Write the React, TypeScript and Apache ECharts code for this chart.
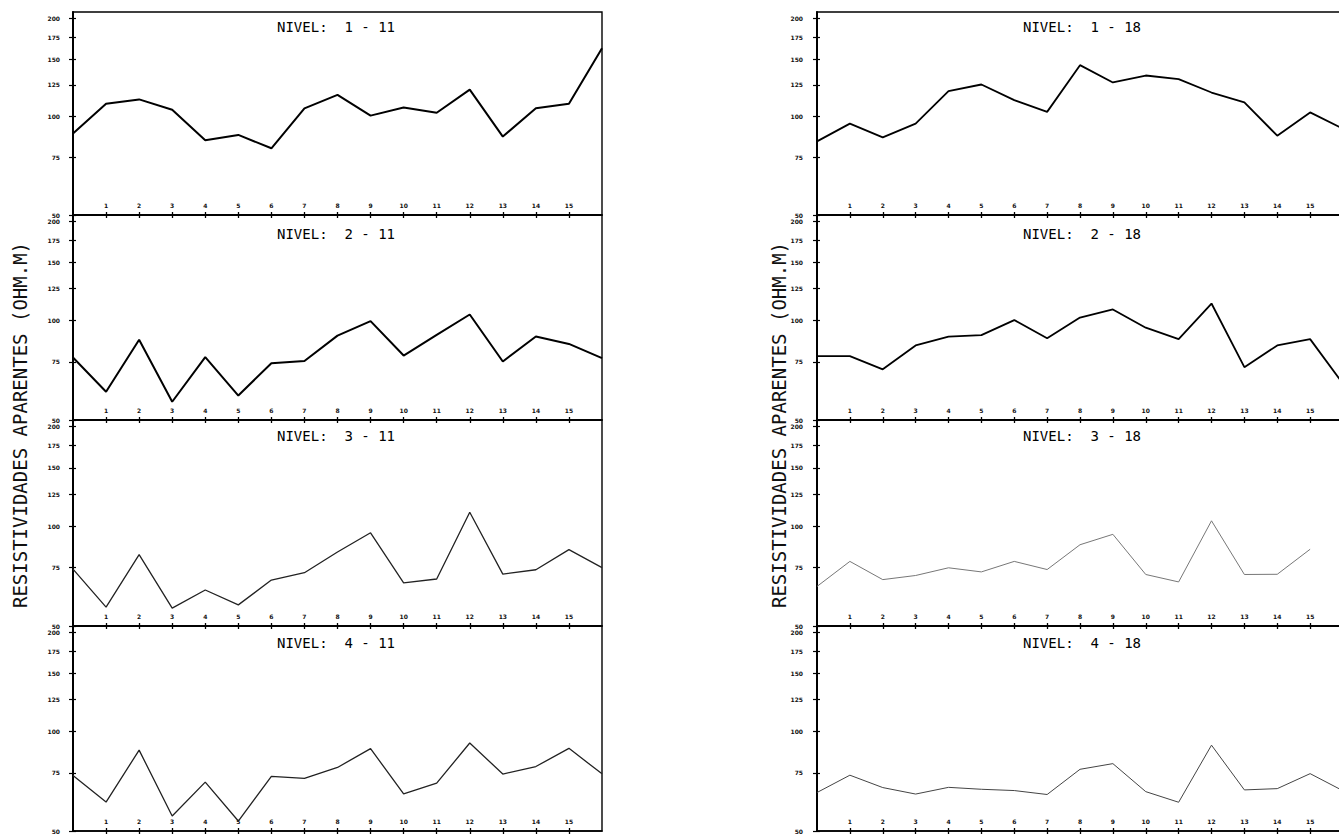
import React, { useEffect, useRef } from 'react';
import * as echarts from 'echarts';

// ---- data ----
const xTickValues = [1, 2, 3, 4, 5, 6, 7, 8, 9, 10, 11, 12, 13, 14, 15];
const yTickValues = [50, 75, 100, 125, 150, 175, 200];

const titlesLeft = ['NIVEL:  1 - 11', 'NIVEL:  2 - 11', 'NIVEL:  3 - 11', 'NIVEL:  4 - 11'];
const titlesRight = ['NIVEL:  1 - 18', 'NIVEL:  2 - 18', 'NIVEL:  3 - 18', 'NIVEL:  4 - 18'];
const yAxisTitle = 'RESISTIVIDADES APARENTES (OHM.M)';

const nivel1_11 = [88.8, 109.5, 112.9, 105, 84.7, 87.9, 80, 106, 116.6, 100.7, 106.7, 102.8, 121, 86.9, 106, 109.5, 162];
const nivel2_11 = [77.3, 60.9, 87.5, 56.8, 77.5, 59.3, 74.3, 75.5, 90.1, 99.7, 78.4, 90.6, 104.4, 75.2, 89.5, 85, 77];
const nivel3_11 = [74.2, 57, 82.1, 56.6, 64.2, 57.9, 68.8, 72.4, 83.6, 95.5, 67.5, 69.3, 110.1, 71.7, 73.9, 85, 75];
const nivel4_11 = [73.6, 61.2, 87.9, 55.5, 70.3, 53.6, 73.2, 72.2, 77.9, 88.8, 64.8, 69.8, 92.4, 74.4, 78.4, 89, 74.5];

const nivel1_18 = [84, 95.2, 86.4, 95.2, 119.6, 125.4, 112.3, 103.4, 143.7, 127.2, 133.6, 130.2, 118.5, 110.6, 87.4, 103, 91.8];
const nivel2_18 = [78.1, 78.1, 71.2, 84.1, 89.4, 90.4, 100.4, 88.5, 102.2, 108.1, 95.2, 87.9, 112.7, 72.3, 84.1, 87.9, 64.4];
const nivel3_18 = [65.8, 78.3, 69, 71, 74.9, 72.8, 78.3, 74, 87.9, 94.5, 71.5, 67.9, 103.8, 71.5, 71.6, 85.2];
const nivel4_18 = [65.4, 73.8, 67.7, 64.7, 67.8, 66.9, 66.3, 64.5, 76.9, 80, 65.8, 61.1, 91, 66.6, 67.2, 74.6, 66.2];

const seriesLeft = [nivel1_11, nivel2_11, nivel3_11, nivel4_11];
const seriesRight = [nivel1_18, nivel2_18, nivel3_18, nivel4_18];

// ---- layout / style ----
const X_MAX = 16;
const Y_MIN = 50;
const Y_MAX = 209;
const CANVAS_W = 1400;
const colLeft = [73, 817];
const colWidth = [529, 526];
const rowTop = [12, 215, 420, 626];
const rowHeight = [203, 205, 206, 207];
const lineStyles = [
  [{ color: '#000', width: 2 }, { color: '#000', width: 2 }, { color: '#222', width: 1.3 }, { color: '#222', width: 1.3 }],
  [{ color: '#000', width: 1.8 }, { color: '#000', width: 1.8 }, { color: '#777', width: 1 }, { color: '#444', width: 1 }],
];
const titleX = [277, 1023];
const titleY = [28, 235, 437, 644];
const labelMargin = [13, 14];

export default function App() {
  const ref = useRef<HTMLDivElement>(null);
  useEffect(() => {
    document.body.style.margin = '0';
    document.body.style.overflow = 'hidden';
    const chart = echarts.init(ref.current!, null, { renderer: 'svg' });
    const grid: any[] = [];
    const xAxis: any[] = [];
    const yAxis: any[] = [];
    const series: any[] = [];
    const graphic: any[] = [];

    for (let c = 0; c < 2; c++) {
      for (let r = 0; r < 4; r++) {
        const g = grid.length;
        grid.push({
          left: colLeft[c],
          top: rowTop[r],
          width: colWidth[c],
          height: rowHeight[r],
          show: true,
          borderColor: '#000',
          borderWidth: 1.4,
          backgroundColor: 'transparent',
        });
        const xBase = {
          gridIndex: g,
          type: 'value',
          min: 0,
          max: X_MAX,
          splitLine: { show: false },
        };
        xAxis.push({
          ...xBase,
          position: 'bottom',
          axisLine: { show: true, lineStyle: { color: '#000', width: 1.6 } },
          axisTick: { show: true, customValues: xTickValues, length: 3, lineStyle: { color: '#000', width: 1.3 } },
          axisLabel: {
            show: true,
            inside: true,
            customValues: xTickValues,
            margin: 7,
            fontSize: 6,
            fontWeight: 'bold',
            color: '#111',
            fontFamily: 'DejaVu Sans',
          },
        });
        xAxis.push({
          ...xBase,
          position: 'bottom',
          axisLine: { show: false },
          axisTick: { show: true, inside: true, customValues: xTickValues, length: 3, lineStyle: { color: '#000', width: 1.3 } },
          axisLabel: { show: false },
        });
        const yBase = {
          gridIndex: g,
          type: 'log',
          logBase: 10,
          min: Y_MIN,
          max: Y_MAX,
          splitLine: { show: false },
        };
        yAxis.push({
          ...yBase,
          position: 'left',
          axisLine: { show: true, lineStyle: { color: '#000', width: 2 } },
          axisTick: { show: true, customValues: yTickValues, length: 4, lineStyle: { color: '#000', width: 1.2 } },
          axisLabel: {
            show: true,
            customValues: yTickValues,
            margin: labelMargin[c],
            fontSize: 6,
            fontWeight: 'bold',
            color: '#111',
            fontFamily: 'DejaVu Sans',
          },
        });
        yAxis.push({
          ...yBase,
          position: 'left',
          axisLine: { show: false },
          axisTick: { show: true, inside: true, customValues: yTickValues, length: 3, lineStyle: { color: '#000', width: 1.2 } },
          axisLabel: { show: false },
        });
        const values = (c === 0 ? seriesLeft : seriesRight)[r];
        series.push({
          type: 'line',
          xAxisIndex: g * 2,
          yAxisIndex: g * 2,
          data: values.map((v, i) => [i, v]),
          symbol: 'none',
          silent: true,
          lineStyle: lineStyles[c][r],
        });
        graphic.push({
          type: 'text',
          left: titleX[c],
          top: titleY[r] - 8,
          silent: true,
          style: {
            text: (c === 0 ? titlesLeft : titlesRight)[r],
            font: '14px "DejaVu Sans Mono"',
            fill: '#000',
          },
        });
      }
    }

    const yTitleX = [20, 779];
    for (let c = 0; c < 2; c++) {
      graphic.push({
        type: 'text',
        x: yTitleX[c],
        y: 425,
        rotation: Math.PI / 2,
        silent: true,
        style: {
          text: yAxisTitle,
          font: '19px "DejaVu Sans Mono"',
          fill: '#111',
          align: 'center',
          verticalAlign: 'middle',
        },
      });
    }

    chart.setOption({
      animation: false,
      backgroundColor: '#fff',
      grid,
      xAxis,
      yAxis,
      series,
      graphic,
    });
    return () => chart.dispose();
  }, []);
  return (
    <div
      ref={ref}
      style={{ position: 'fixed', left: 0, top: 0, width: CANVAS_W, height: 834, background: '#fff' }}
    />
  );
}
